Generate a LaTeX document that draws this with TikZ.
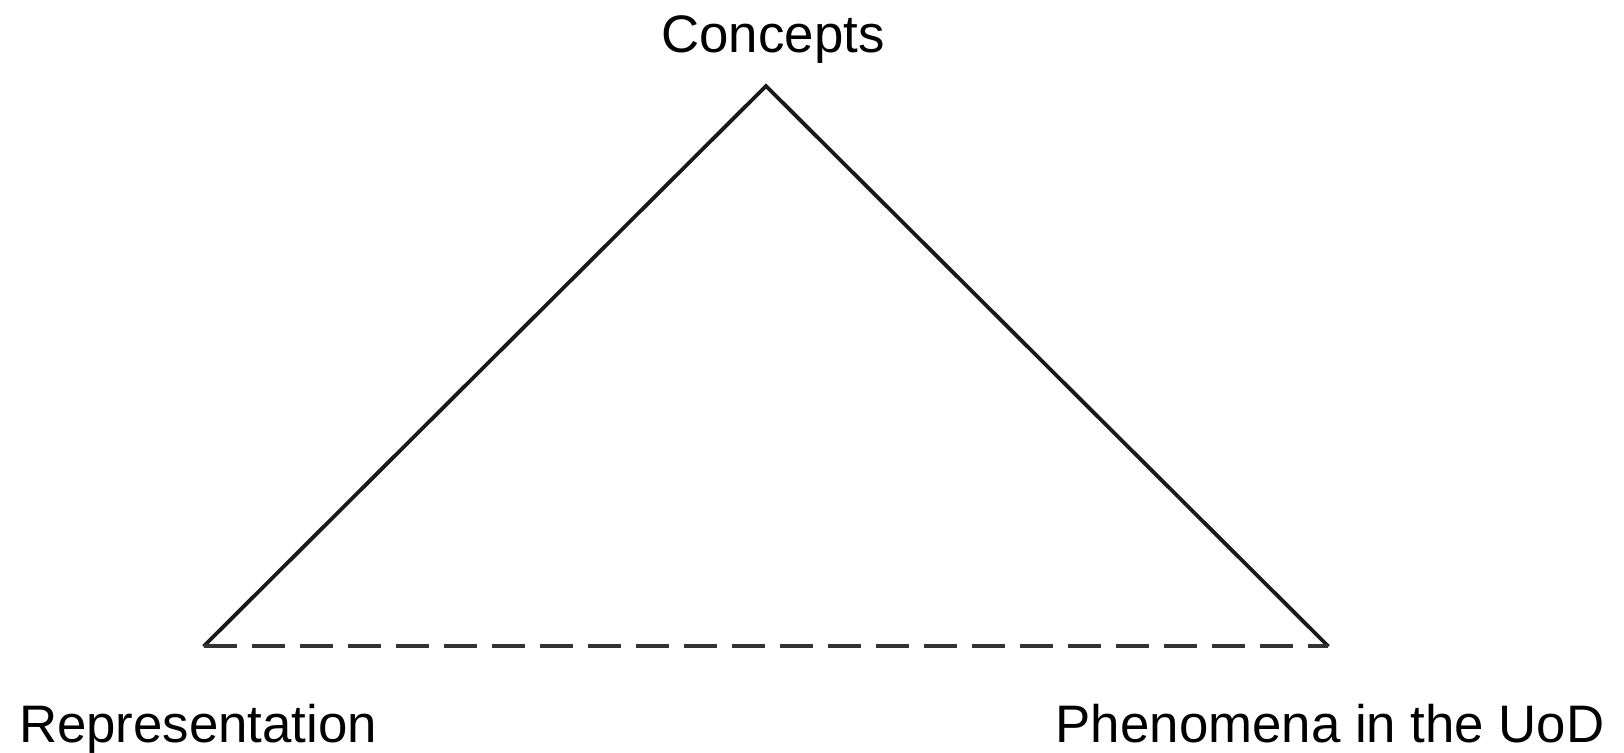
\documentclass[tikz,border=0pt]{standalone}
\usepackage{fontspec}
\setmainfont{Liberation Sans}
\begin{document}
\begin{tikzpicture}[x=1pt,y=1pt,
  lbl/.style={inner sep=0pt, font=\fontsize{26.4}{30}\selectfont},
  edge/.style={line width=1.9pt, draw=black!90, line join=miter},
  dashedge/.style={line width=2pt, draw=black!80, dash pattern=on 16.5pt off 7.5pt}]
\useasboundingbox (0,0) rectangle (812,376);
\coordinate (top) at (383,333);
\coordinate (left) at (101.8,52.8);
\coordinate (right) at (664.2,52.8);
\node[lbl, anchor=base] (c) at (386.5,350) {Concepts};
\node[lbl, anchor=base west] (r) at (9.3,5) {Representation};
\node[lbl, anchor=base east] (p) at (802.5,5) {Phenomena in the UoD};
\draw[edge] (left) -- (top) -- (right);
\draw[dashedge] (left) -- (right);
\end{tikzpicture}
\end{document}
